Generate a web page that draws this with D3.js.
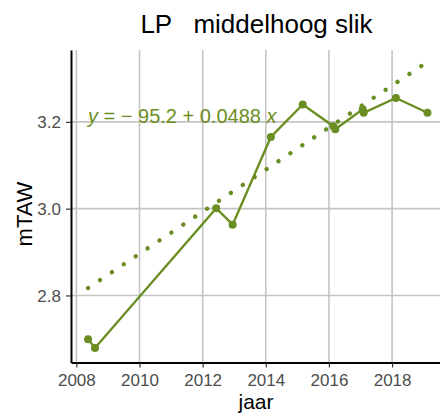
<!DOCTYPE html>
<html><head><meta charset="utf-8">
<script src="https://cdn.jsdelivr.net/npm/d3@7"></script>
<style>
body{margin:0;background:#fff;}
text{font-family:"Liberation Sans",Arial,sans-serif;}
</style></head>
<body><div id="chart"></div>
<script>
const years  = [2008.37, 2008.59, 2012.43, 2012.95, 2014.16, 2015.17, 2016.14, 2016.20, 2017.07, 2017.10, 2018.12, 2019.12];
const values = [2.699, 2.679, 3.001, 2.963, 3.165, 3.240, 3.190, 3.183, 3.229, 3.221, 3.255, 3.221];
const trendYears  = [2008.37, 2019.12];
const trendValues = [2.817, 3.338];
const xTicks = [2008, 2010, 2012, 2014, 2016, 2018];
const yTicks = [2.8, 3.0, 3.2];
const title = "LP   middelhoog slik";
const xTitle = "jaar", yTitle = "mTAW";
const eqParts = [["y", true], [" = \u2212 95.2 + 0.0488 ", false], ["x", true]];

const W = 440, H = 416, green = "#6b8e23";
const svg = d3.select("#chart").append("svg").attr("width", W).attr("height", H);
const L = 71, R = 444.5, T = 50, B = 362.5;
const x = d3.scaleLinear().domain([2007.83, 2019.66]).range([L, R]);
const y = d3.scaleLinear().domain([2.6455, 3.3655]).range([B, T]);

svg.append("defs").append("clipPath").attr("id","clip")
  .append("rect").attr("x", L).attr("y", T).attr("width", W - L).attr("height", B - T);

const grid = svg.append("g").attr("clip-path","url(#clip)");
grid.selectAll(".gx").data(xTicks).join("line")
  .attr("x1", d=>x(d)).attr("x2", d=>x(d)).attr("y1", T).attr("y2", B)
  .attr("stroke","#c4c4c4").attr("stroke-width",1.6);
grid.selectAll(".gy").data(yTicks).join("line")
  .attr("x1", L).attr("x2", W).attr("y1", d=>y(d)).attr("y2", d=>y(d))
  .attr("stroke","#c4c4c4").attr("stroke-width",1.6);

const plot = svg.append("g").attr("clip-path","url(#clip)");
const trend = trendYears.map((d,i)=>[d, trendValues[i]]);
plot.append("path").datum(trend)
  .attr("d", d3.line().x(d=>x(d[0])).y(d=>y(d[1])))
  .attr("fill","none").attr("stroke",green).attr("stroke-width",4.4)
  .attr("stroke-linecap","round").attr("stroke-dasharray","0.1,14.2");

const pts = years.map((d,i)=>[d, values[i]]);
plot.append("path").datum(pts)
  .attr("d", d3.line().x(d=>x(d[0])).y(d=>y(d[1])))
  .attr("fill","none").attr("stroke",green).attr("stroke-width",2.4);
plot.selectAll("circle").data(pts).join("circle")
  .attr("cx", d=>x(d[0])).attr("cy", d=>y(d[1])).attr("r",4).attr("fill",green);

// axes
const xa = svg.append("g").attr("transform",`translate(0,${B})`)
  .call(d3.axisBottom(x).tickValues(xTicks).tickFormat(d3.format("d")).tickSize(5).tickSizeOuter(0));
const ya = svg.append("g").attr("transform",`translate(${L},0)`)
  .call(d3.axisLeft(y).tickValues(yTicks).tickFormat(d3.format(".1f")).tickSize(5).tickSizeOuter(0));
[xa, ya].forEach(a=>{
  a.select(".domain").attr("stroke","#000").attr("stroke-width",2);
  a.selectAll(".tick line").attr("stroke","#333").attr("stroke-width",1.2);
  a.selectAll(".tick text").attr("fill","#4d4d4d").attr("font-size",17)
   .attr("font-family",'"Liberation Sans",Arial,sans-serif');
});
xa.selectAll(".tick text").attr("dy",null).attr("y",23);
ya.selectAll(".tick text").attr("dy","0.36em").attr("x",-10);

svg.append("text").attr("x", 256.5).attr("y", 33).attr("text-anchor","middle")
  .attr("font-size",26).attr("fill","#000").attr("xml:space","preserve")
  .style("white-space","pre").text(title);
svg.append("text").attr("x", 256).attr("y", 409).attr("text-anchor","middle")
  .attr("font-size",21).attr("fill","#000").text(xTitle);
svg.append("text").attr("transform","translate(32,214) rotate(-90)").attr("text-anchor","middle")
  .attr("font-size",22).attr("fill","#000").text(yTitle);

const eq = svg.append("text").attr("x", 88).attr("y", 123).attr("font-size",20).attr("fill",green)
  .attr("xml:space","preserve").style("white-space","pre");
eq.selectAll("tspan").data(eqParts).join("tspan")
  .attr("font-style", d=>d[1] ? "italic" : "normal").text(d=>d[0]);
</script></body></html>
